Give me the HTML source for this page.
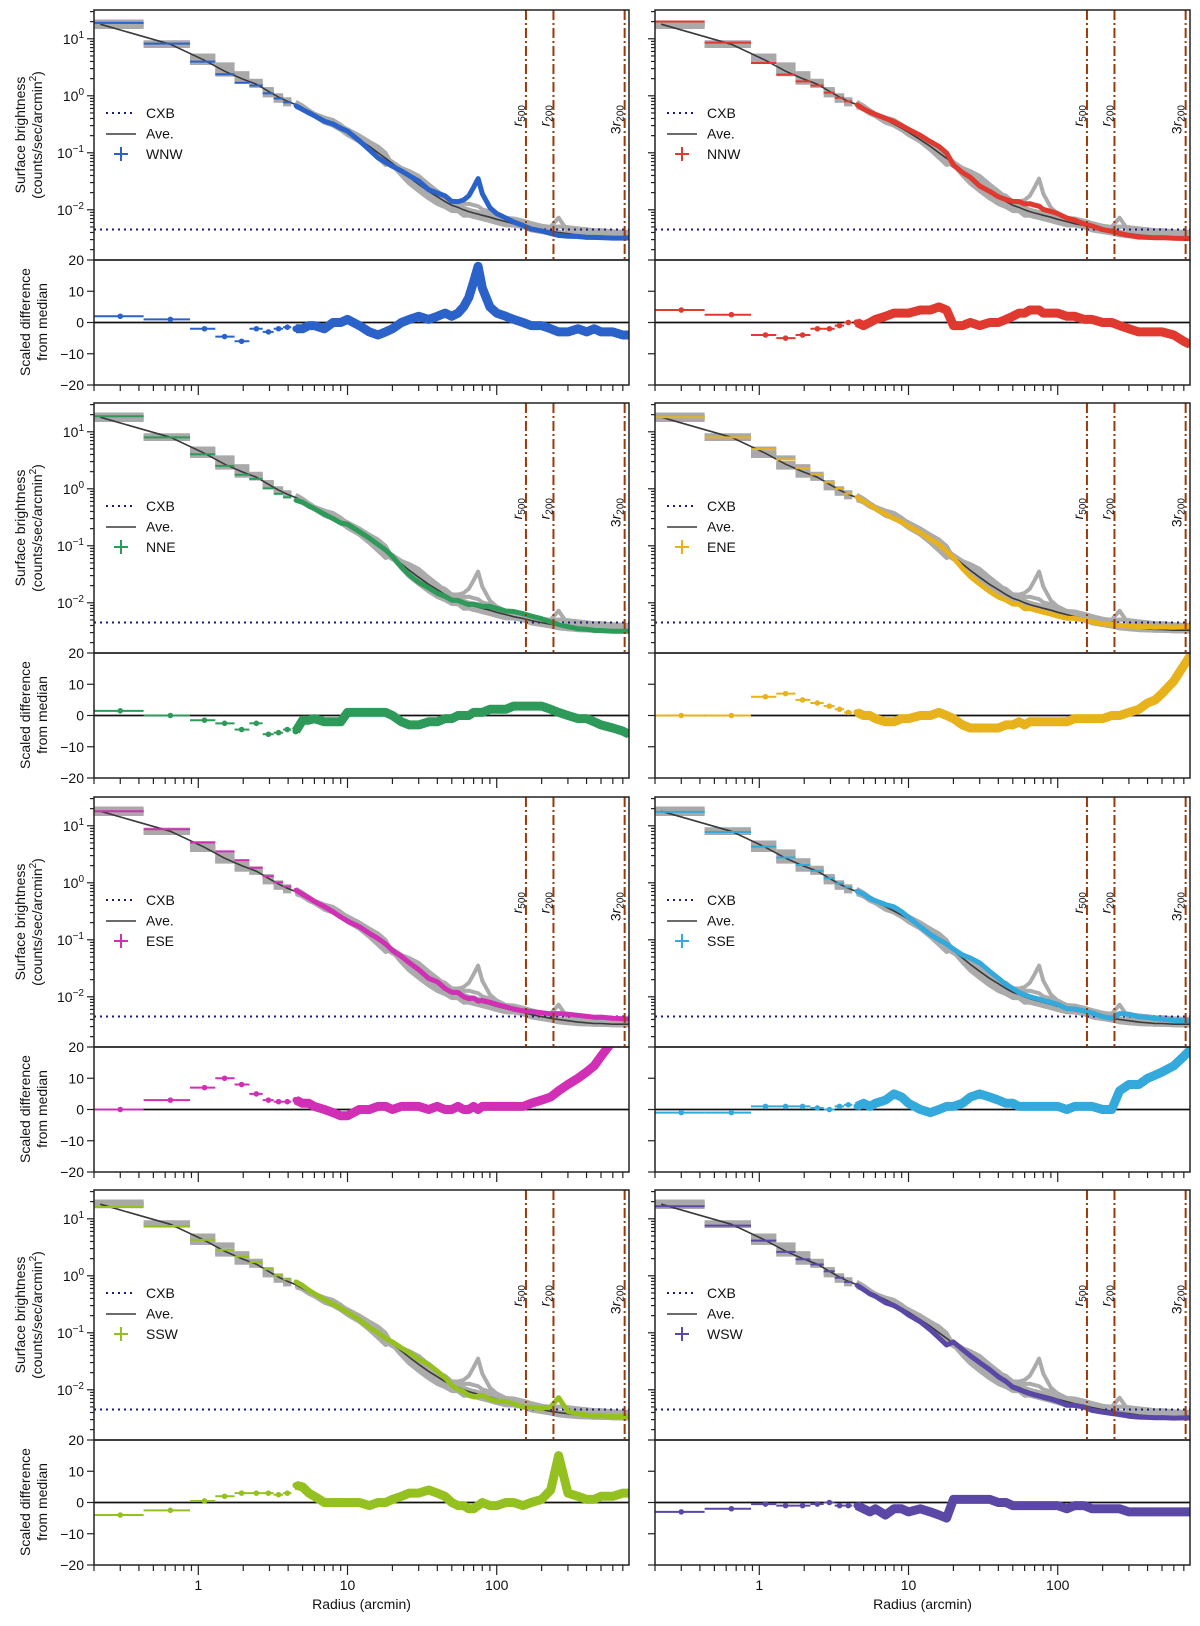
<!DOCTYPE html>
<html><head><meta charset="utf-8">
<style>
html,body{margin:0;padding:0;background:#fff;}
svg{display:block;font-family:"Liberation Sans",sans-serif;}
</style></head>
<body>
<svg id="fig" width="1200" height="1626" viewBox="0 0 1200 1626" xmlns="http://www.w3.org/2000/svg"></svg>
<script>
// ---- data ----
const radii = [0.3,0.65,1.1,1.5,1.95,2.45,2.95,3.45,3.95,
  4.5,5,5.5,6,7,8,9,10,12,14,16,18,20,23,26,30,35,40,45,50,55,60,65,70,75,80,90,
  100,115,130,150,170,200,230,260,300,350,400,450,500,600,700,770];
const binEdges = [0.2,0.43,0.88,1.3,1.75,2.2,2.7,3.2,3.7,4.2];
const aveSB = [18,8,4.2,2.7,2.0,1.6,1.2,0.95,0.8,
  0.7,0.6,0.52,0.46,0.38,0.32,0.27,0.23,0.17,0.13,0.1,0.08,0.065,0.048,0.037,0.028,0.021,0.017,0.014,0.012,0.011,0.0100,0.0093,0.0088,0.0084,0.008,0.0074,
  0.0068,0.0062,0.0057,0.0053,0.0049,0.0045,0.0042,0.004,0.0038,0.0036,0.0035,0.0034,0.0034,0.0033,0.0033,0.0033];
const cxbLevel = 0.0045;
const refRadii = [157,240,720];
const refLabels = ["500","200","200"];
const refPrefix = ["","","3"];
const dirNames = ["WNW","NNW","NNE","ENE","ESE","SSE","SSW","WSW"];
const dirColors = ["#2a62c9","#e0392f","#2e9a5a","#e8b21c","#d12fb5","#33a9dc","#94c11f","#5a47a6"];
const resWNW = [2,1,-2,-4.5,-6,-2,-3,-2,-1.5, -2,-2,-1,-1,-2,0,0,1,-1,-3,-4,-3,-2,0,1,2,1,2,3,2,3,5,8,13,18,11,5,3,2,1,0,-1,-1,-2,-3,-3,-2,-3,-2,-3,-3,-4,-4];
const resNNW = [4,2.5,-4,-5,-4,-2,-2,-1,0, 0,-1,0,1,2,3,3,3,4,4,5,4,-1,-1,0,-1,0,0,1,2,3,3,4,4,4,3,3,3,2,2,1,1,0,0,-1,-2,-3,-3,-3,-3,-4,-6,-7];
const resNNE = [1.5,0,-1.5,-2.5,-4.5,-2.5,-6,-5.5,-4.5, -5,-1.5,-1.5,-1,-2,-2,-2,1,1,1,1,1,0,-2,-3,-3,-2,-2,-1,-1,0,0,0,1,1,1,2,2,2,3,3,3,3,2,1,0,-1,-1,-2,-3,-4,-5,-6];
const resENE = [0,0,6,7,5,4,3,2,1, 1,0,0,-1,-2,-2,-1,-1,0,0,1,0,-1,-3,-4,-4,-4,-4,-3,-3,-2,-3,-2,-2,-2,-2,-2,-2,-2,-1,-1,-1,-1,0,0,1,2,4,5,7,11,16,19];
const resESE = [0,3,7,10,8,5,3,2.5,2.5, 3,2,2,1,0,-1,-2,-2,0,0,1,1,0,1,1,1,0,1,0,0,1,0,0,1,0,1,1,1,1,1,1,2,3,4,6,8,10,12,14,17,22,26,30];
const resSSE = [-1,-1,1,1,1,0.5,0,1,1.5, 1,2,1,2,3,5,4,2,0,-1,0,1,1,2,4,5,4,3,2,2,1,1,1,1,1,1,1,1,0,1,1,1,0,0,6,8,8,10,11,12,14,17,19];
const resSSW = [-4,-2.5,0.5,2,3,3,3,2.5,3, 5.5,5,3,2,0,0,0,0,0,-1,0,0,1,2,3,3,4,3,2,0,-1,-1,-2,-2,-1,0,-1,-1,0,0,-1,0,1,4,15,3,2,1,1,2,2,3,3];
const resWSW = [-3,-2,-0.5,-1,-1,-0.5,0,-1,-1, -1,-2,-3,-2,-4,-2,-2,-3,-2,-3,-4,-5,1,1,1,1,1,0,0,-1,-1,-1,-1,-1,-1,-1,-1,-1,-2,-1,-1,-2,-2,-2,-2,-3,-3,-3,-3,-3,-3,-3,-3];
const residuals = [resWNW,resNNW,resNNE,resENE,resESE,resSSE,resSSW,resWSW];
const xTickLabels = ["1","10","100"];
const yTopExps = [1,0,-1,-2];
const yBotTicks = [20,10,0,-10,-20];

// ---- layout ----
const NS="http://www.w3.org/2000/svg";
const svg=document.getElementById('fig');
const PW=535, TH=250, BH=125;
const colX=[94,655];
const rowY=[10,403,797,1190];
const XMIN=Math.log10(0.2), XMAX=Math.log10(770);
const YTOP=Math.log10(32), DEC=57;
function mk(tag,attrs,parent){const e=document.createElementNS(NS,tag);for(const k in attrs)e.setAttribute(k,attrs[k]);(parent||svg).appendChild(e);return e;}
function sbOf(d,i){const r=radii[i];const k=i<9?0.012:0.05*(r/(r+20))/(1+Math.pow(r/200,2));return aveSB[i]*Math.pow(10,residuals[d][i]*k);}

dirNames.forEach((name,d)=>{
  const x0=colX[d%2], t=rowY[Math.floor(d/2)], bt=t+TH;
  const X=r=>x0+(Math.log10(r)-XMIN)/(XMAX-XMIN)*PW;
  const Y=v=>t+(YTOP-Math.log10(v))*DEC;
  const YB=v=>bt+(20-v)/40*BH;
  const g=mk('g',{});
  
  
  const cid='clipT'+d, cidb='clipB'+d;
  const defs=mk('defs',{},g);
  const c1=mk('clipPath',{id:cid},defs);mk('rect',{x:x0,y:t,width:PW,height:TH},c1);
  const c2=mk('clipPath',{id:cidb},defs);mk('rect',{x:x0,y:bt,width:PW,height:BH},c2);
  const top=mk('g',{'clip-path':'url(#'+cid+')'},g);
  
  
  for(let o=0;o<8;o++){ if(o===d) continue;
    for(let i=0;i<9;i++){ const l=mk('line',{x1:X(binEdges[i]),x2:X(binEdges[i+1]),y1:Y(sbOf(o,i)),y2:Y(sbOf(o,i)),stroke:'#a9a9a9','stroke-width':4},top);
      }
    let pts=[];for(let i=9;i<radii.length;i++)pts.push(X(radii[i]).toFixed(1)+','+Y(sbOf(o,i)).toFixed(1));
    const p=mk('polyline',{points:pts.join(' '),fill:'none',stroke:'#ababab','stroke-width':4,'stroke-linejoin':'round'},top);
    
  }
  const cx=mk('line',{x1:x0,x2:x0+PW,y1:Y(cxbLevel),y2:Y(cxbLevel),stroke:'#1a1a80','stroke-width':2,'stroke-dasharray':'2,4'},top);
  
  let ap=[];for(let i=0;i<radii.length;i++)ap.push(X(i===0?0.22:radii[i]).toFixed(1)+','+Y(aveSB[i]).toFixed(1));
  const av=mk('polyline',{points:ap.join(' '),fill:'none',stroke:'#3a3a3a','stroke-width':1.6},top);
  
  const col=dirColors[d];
  for(let i=0;i<9;i++){const l=mk('line',{x1:X(binEdges[i]),x2:X(binEdges[i+1]),y1:Y(sbOf(d,i)),y2:Y(sbOf(d,i)),stroke:col,'stroke-width':2},top);
    }
  let cp=[];for(let i=9;i<radii.length;i++)cp.push(X(radii[i]).toFixed(1)+','+Y(sbOf(d,i)).toFixed(1));
  const cl=mk('polyline',{points:cp.join(' '),fill:'none',stroke:col,'stroke-width':5,'stroke-linejoin':'round'},top);
  
  for(let i=9;i<radii.length;i++){const c=mk('circle',{cx:X(radii[i]),cy:Y(sbOf(d,i)),r:2.2,fill:col},top);
    }
  refRadii.forEach((rr,j)=>{
    const l=mk('line',{x1:X(rr),x2:X(rr),y1:t,y2:bt,stroke:'#9a3a0a','stroke-width':2,'stroke-dasharray':'10,3,2,3'},g);
    
    const tx=mk('text',{x:0,y:0,transform:'translate('+(X(rr)-4)+','+(t+95)+') rotate(-90)','text-anchor':'end','font-size':14,fill:'#111'},g);
    
    tx.innerHTML=refPrefix[j]+'<tspan font-style="italic">r</tspan><tspan font-size="10" dy="3">'+refLabels[j]+'</tspan>';
  });
  const bot=mk('g',{'clip-path':'url(#'+cidb+')'},g);
  
  const zl=mk('line',{x1:x0,x2:x0+PW,y1:YB(0),y2:YB(0),stroke:'#111','stroke-width':1.8},bot);
  
  const res=residuals[d];
  for(let i=0;i<9;i++){
    const l=mk('line',{x1:X(binEdges[i]),x2:X(binEdges[i+1]),y1:YB(res[i]),y2:YB(res[i]),stroke:col,'stroke-width':2},bot);
    
    const c=mk('circle',{cx:X(radii[i]),cy:YB(res[i]),r:2.8,fill:col},bot);
    
  }
  let rp=[];for(let i=9;i<radii.length;i++)rp.push(X(radii[i]).toFixed(1)+','+YB(res[i]).toFixed(1));
  const rl=mk('polyline',{points:rp.join(' '),fill:'none',stroke:col,'stroke-width':9,'stroke-linejoin':'round'},bot);
  
  for(let i=9;i<radii.length;i++){const c=mk('circle',{cx:X(radii[i]),cy:YB(res[i]),r:3.3,fill:col},bot);
    }
  const f1=mk('rect',{x:x0,y:t,width:PW,height:TH,fill:'none',stroke:'#222','stroke-width':1.5},g);
  
  const f2=mk('rect',{x:x0,y:bt,width:PW,height:BH,fill:'none',stroke:'#222','stroke-width':1.5},g);
  
  for(let e=-3;e<=1;e++){for(let m=1;m<10;m++){const v=m*Math.pow(10,e);const y=Y(v);if(y<t-0.5||y>bt+0.5)continue;
    mk('line',{x1:x0,x2:x0-(m===1?7:4),y1:y,y2:y,stroke:'#222','stroke-width':1.2},g);}}
  if(d%2===0){
    yTopExps.forEach(e=>{const tx=mk('text',{x:x0-10,y:Y(Math.pow(10,e))+5,'text-anchor':'end','font-size':14,fill:'#111'},g);
      
      tx.innerHTML='10<tspan font-size="10" dy="-6">'+(e<0?'\u2212'+(-e):e)+'</tspan>';});
    yBotTicks.forEach(v=>{const tx=mk('text',{x:x0-10,y:YB(v)+5,'text-anchor':'end','font-size':14,fill:'#111'},g);
      
      tx.textContent=v<0?'\u2212'+(-v):String(v);});
    const yt=mk('text',{transform:'translate(33,'+(t+125)+') rotate(-90)','text-anchor':'middle','font-size':14,fill:'#111'},g);
    
    yt.innerHTML='<tspan x="0" dy="-8">Surface brightness</tspan><tspan x="0" dy="17">(counts/sec/arcmin<tspan font-size="10" dy="-6">2</tspan><tspan dy="6">)</tspan></tspan>';
    const yb=mk('text',{transform:'translate(33,'+(bt+62)+') rotate(-90)','text-anchor':'middle','font-size':14,fill:'#111'},g);
    
    yb.innerHTML='<tspan x="0" dy="-3">Scaled difference</tspan><tspan x="0" dy="17">from median</tspan>';
  }
  yBotTicks.forEach(v=>mk('line',{x1:x0,x2:x0-7,y1:YB(v),y2:YB(v),stroke:'#222','stroke-width':1.2},g));
  for(let e=-1;e<=2;e++){for(let m=1;m<10;m++){const r=m*Math.pow(10,e);if(r<0.2||r>770)continue;const x=X(r);
    mk('line',{x1:x,x2:x,y1:bt+BH,y2:bt+BH+(m===1?10:6),stroke:'#222','stroke-width':1.2},g);}}
  if(d>=6){[1,10,100].forEach((r,j)=>{const tx=mk('text',{x:X(r),y:bt+BH+25,'text-anchor':'middle','font-size':14,fill:'#111'},g);
      tx.textContent=xTickLabels[j];});
    const xt=mk('text',{x:x0+PW/2,y:bt+BH+44,'text-anchor':'middle','font-size':14,fill:'#111'},g);
    xt.textContent='Radius (arcmin)';}
  const lg=mk('g',{},g);
  const ly=t+103;
  mk('line',{x1:x0+12,x2:x0+42,y1:ly,y2:ly,stroke:'#1a1a80','stroke-width':2,'stroke-dasharray':'2,4'},lg);
  mk('line',{x1:x0+12,x2:x0+42,y1:ly+21,y2:ly+21,stroke:'#3a3a3a','stroke-width':1.6},lg);
  mk('line',{x1:x0+20,x2:x0+34,y1:ly+41,y2:ly+41,stroke:col,'stroke-width':2},lg);
  mk('line',{x1:x0+27,x2:x0+27,y1:ly+34,y2:ly+48,stroke:col,'stroke-width':2},lg);
  ['CXB','Ave.',name].forEach((s,j)=>{const tx=mk('text',{x:x0+52,y:ly+5+j*20.5,'font-size':14,fill:'#111'},lg);
    tx.textContent=s;});
});
</script>
</body></html>
